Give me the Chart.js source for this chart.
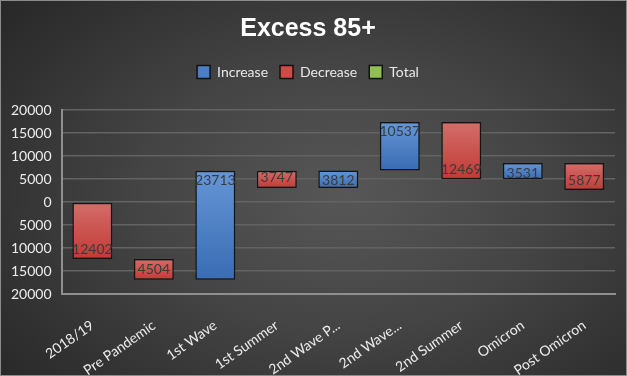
<!DOCTYPE html>
<html><head><meta charset="utf-8">
<script src="https://cdn.jsdelivr.net/npm/chart.js@4.4.1/dist/chart.umd.min.js"></script>
<style>
html,body{margin:0;padding:0;background:#2a2a2a;}
#wrap{width:627px;height:376px;box-sizing:border-box;border:1px solid #8c8c8c;position:relative;
background:radial-gradient(ellipse 72% 80% at 55% 52%, #575757 0%, #444444 45%, #2f2f2f 85%, #282828 100%);}
#box{position:absolute;left:0;top:0;width:625px;height:374px;}
</style></head><body>
<div id="wrap"><div id="box"><canvas id="c"></canvas></div></div>
<script>
// ---- data ----
const categories = ['2018/19', 'Pre Pandemic', '1st Wave', '1st Summer', '2nd Wave P...', '2nd Wave...', '2nd Summer', 'Omicron', 'Post Omicron'];
const changes = [-12402, -4504, 23713, -3747, 3812, 10537, -12469, 3531, -5877];
const legendLabels = ['Increase', 'Decrease', 'Total'];
const yMin = -20000, yMax = 20000, yStep = 5000;

// ---- styles ----
const incTop = '#6596d6', incBot = '#3a6cb4';
const decTop = '#d46d69', decBot = '#c13a36';
const legendColors = ['#4a7fc8', '#d04a46', '#92c050'];

// waterfall ranges built from the changes
const ranges = [];
let running = 0;
for (const c of changes) { ranges.push([running, running + c]); running += c; }

const spacer = {
  id: 'spacer',
  beforeInit(chart) {
    if (!Chart.layouts) return;
    Chart.layouts.addBox(chart, {
      position: 'top', weight: 900, fullSize: true, options: {},
      width: 0, height: 0, left: 0, top: 0, right: 0, bottom: 0,
      isHorizontal() { return true; },
      update(maxWidth) { this.width = maxWidth; this.height = 21; },
      draw() {}
    });
  }
};

const valueLabels = {
  id: 'valueLabels',
  afterDatasetsDraw(chart) {
    const ctx = chart.ctx, y = chart.scales.y;
    const meta = chart.getDatasetMeta(0);
    ctx.save();
    ctx.font = '14px Lato';
    ctx.fillStyle = '#3b3b3b';
    ctx.textAlign = 'center';
    ctx.textBaseline = 'middle';
    meta.data.forEach((bar, i) => {
      const endPx = y.getPixelForValue(ranges[i][1]);
      const off = changes[i] >= 0 ? 10 : -10;
      ctx.fillText(String(Math.abs(changes[i])), bar.x, endPx + off);
    });
    ctx.restore();
  }
};

new Chart(document.getElementById('c'), {
  type: 'bar',
  data: {
    labels: categories,
    datasets: [{
      label: 'Excess 85+',
      data: ranges,
      backgroundColor(ctx) {
        const chart = ctx.chart, y = chart.scales.y;
        const inc = changes[ctx.dataIndex] >= 0;
        if (!y || ctx.type !== 'data') return inc ? incBot : decBot;
        const r = ranges[ctx.dataIndex];
        const top = y.getPixelForValue(Math.max(r[0], r[1]));
        const bot = y.getPixelForValue(Math.min(r[0], r[1]));
        if (!isFinite(top) || !isFinite(bot) || top === bot) return inc ? incBot : decBot;
        const g = chart.ctx.createLinearGradient(0, top, 0, bot);
        g.addColorStop(0, inc ? incTop : decTop);
        g.addColorStop(1, inc ? incBot : decBot);
        return g;
      },
      borderColor: '#141414',
      borderWidth: 1.5,
      borderSkipped: false,
      barPercentage: 0.65,
      categoryPercentage: 1
    }]
  },
  options: {
    responsive: true,
    maintainAspectRatio: false,
    animation: false,
    layout: { padding: { left: 0, right: 11, top: 0, bottom: 0 } },
    plugins: {
      title: {
        display: true, text: 'Excess 85+', color: '#ffffff',
        font: { family: 'Liberation Sans', size: 25, weight: 'bold' },
        padding: { top: 13, bottom: 9 }
      },
      legend: {
        position: 'top',
        onClick: () => {},
        labels: {
          color: '#e8e8e8', font: { family: 'Lato', size: 14 },
          boxWidth: 13, boxHeight: 13, padding: 12,
          generateLabels() {
            return legendLabels.map((t, i) => ({
              text: t, fillStyle: legendColors[i], strokeStyle: '#111111',
              lineWidth: 1.5, hidden: false, datasetIndex: 0, fontColor: '#e8e8e8'
            }));
          }
        }
      },
      tooltip: { enabled: false }
    },
    scales: {
      x: {
        grid: { display: false },
        border: { display: true, color: '#8f8f8f', width: 2 },
        ticks: { color: '#ececec', font: { family: 'Lato', size: 14 }, minRotation: 35, maxRotation: 35, autoSkip: false, padding: 15 },
        afterFit(scale) { scale.height = 81; }
      },
      y: {
        min: yMin, max: yMax,
        ticks: { stepSize: yStep, callback: v => String(Math.abs(v)), color: '#ececec', font: { family: 'Lato', size: 14 }, padding: 10 },
        grid: { color: '#636363', lineWidth: 1.5, drawTicks: false },
        border: { display: true, color: '#8f8f8f', width: 2 }
      }
    }
  },
  plugins: [spacer, valueLabels]
});
</script>
</body></html>
